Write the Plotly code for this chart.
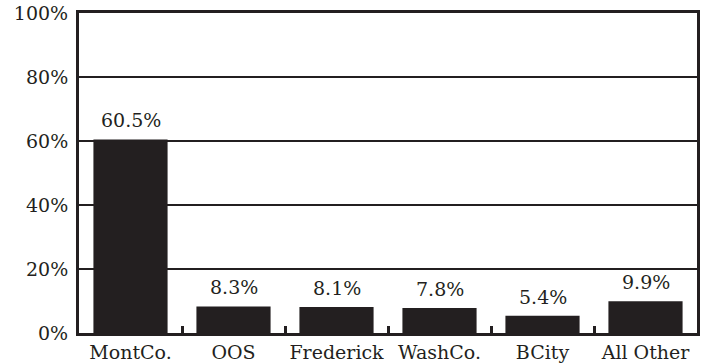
import plotly.graph_objects as go

categories = ["MontCo.", "OOS", "Frederick", "WashCo.", "BCity", "All Other"]
values = [60.5, 8.3, 8.1, 7.8, 5.4, 9.9]
labels = ["60.5%", "8.3%", "8.1%", "7.8%", "5.4%", "9.9%"]
y_ticks = [0, 20, 40, 60, 80, 100]
y_tick_text = ["0%", "20%", "40%", "60%", "80%", "100%"]

FONT = "DejaVu Serif"
INK = "#231f20"

fig = go.Figure(go.Bar(
    x=categories, y=values,
    marker=dict(color=INK, line=dict(width=0)),
    width=0.72, hoverinfo="skip",
))

for c, v, t in zip(categories, values, labels):
    fig.add_annotation(
        x=c, y=v, text=t, showarrow=False, yanchor="bottom", yshift=6,
        font=dict(family=FONT, size=19, color=INK),
    )

fig.update_layout(
    width=704, height=364,
    margin=dict(l=79, r=7, t=13, b=31, autoexpand=False),
    paper_bgcolor="white", plot_bgcolor="white",
    showlegend=False,
    font=dict(family=FONT, size=19, color=INK),
)
fig.update_xaxes(
    type="category", showline=True, linecolor=INK, linewidth=3, mirror=True,
    ticks="inside", tickson="boundaries", ticklen=7, tickwidth=3, tickcolor=INK,
    showgrid=False, tickangle=0, tickfont=dict(family=FONT, size=19, color=INK),
    automargin=False,
)
fig.update_yaxes(
    range=[0, 100], tickvals=y_ticks, ticktext=y_tick_text,
    showline=True, linecolor=INK, linewidth=3, mirror=True,
    showgrid=True, gridcolor=INK, gridwidth=2, zeroline=False,
    ticks="", ticklen=0, ticklabelstandoff=4,
    tickfont=dict(family=FONT, size=19, color=INK), automargin=False,
)

fig.write_html(
    "out.html",
    config={"displayModeBar": False, "staticPlot": True},
    post_script="document.body.style.margin='0px';",
)
